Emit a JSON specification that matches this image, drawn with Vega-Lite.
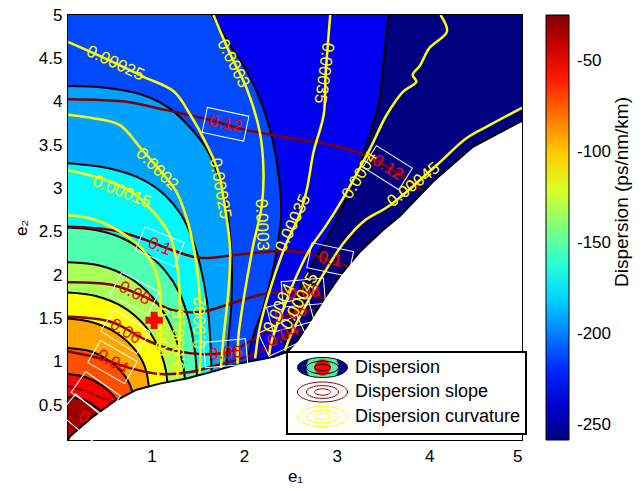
{
  "$schema": "https://vega.github.io/schema/vega-lite/v6.json",
  "width": 454,
  "height": 425,
  "autosize": "none",
  "padding": {"left": 68, "top": 15, "right": 120, "bottom": 51},
  "background": "white",
  "config": {
    "font": "Liberation Sans",
    "view": {"stroke": "black", "strokeWidth": 2},
    "axis": {"grid": false, "domain": false, "ticks": false, "labelColor": "black", "labelFontSize": 17, "labelFont": "Liberation Sans", "titleFont": "Liberation Sans", "titleFontSize": 17, "titleFontWeight": "normal", "titleColor": "black"}
  },
  "datasets": {
    "bands": [
      {"lev": -260, "c": -258, "x": 5, "y": 5}, {"lev": -260, "c": -258, "x": 5, "y": 0.1},
      {"lev": -240, "c": -232, "x": 3.56, "y": 5}, {"lev": -240, "c": -232, "x": 3.5, "y": 4.4}, {"lev": -240, "c": -232, "x": 3.45, "y": 3.96}, {"lev": -240, "c": -232, "x": 3.32, "y": 3.5}, {"lev": -240, "c": -232, "x": 3.15, "y": 3.0}, {"lev": -240, "c": -232, "x": 2.98, "y": 2.6}, {"lev": -240, "c": -232, "x": 2.8, "y": 2.25}, {"lev": -240, "c": -232, "x": 2.62, "y": 1.9}, {"lev": -240, "c": -232, "x": 2.5, "y": 1.55}, {"lev": -240, "c": -232, "x": 2.45, "y": 1.25}, {"lev": -240, "c": -232, "x": 2.43, "y": 1.08}, {"lev": -240, "c": -232, "x": 2.43, "y": 0.1},
      {"lev": -220, "c": -212, "x": 1.65, "y": 5}, {"lev": -220, "c": -212, "x": 1.85, "y": 4.65}, {"lev": -220, "c": -212, "x": 2.03, "y": 4.35}, {"lev": -220, "c": -212, "x": 2.2, "y": 3.95}, {"lev": -220, "c": -212, "x": 2.31, "y": 3.55}, {"lev": -220, "c": -212, "x": 2.38, "y": 3.1}, {"lev": -220, "c": -212, "x": 2.4, "y": 2.7}, {"lev": -220, "c": -212, "x": 2.37, "y": 2.4}, {"lev": -220, "c": -212, "x": 2.3, "y": 2.0}, {"lev": -220, "c": -212, "x": 2.2, "y": 1.6}, {"lev": -220, "c": -212, "x": 2.1, "y": 1.3}, {"lev": -220, "c": -212, "x": 2.04, "y": 1.02}, {"lev": -220, "c": -212, "x": 2.04, "y": 0.1},
      {"lev": -200, "c": -192, "x": 0.1, "y": 4.18}, {"lev": -200, "c": -192, "x": 0.5, "y": 4.16}, {"lev": -200, "c": -192, "x": 0.9, "y": 4.08}, {"lev": -200, "c": -192, "x": 1.2, "y": 3.92}, {"lev": -200, "c": -192, "x": 1.42, "y": 3.7}, {"lev": -200, "c": -192, "x": 1.6, "y": 3.45}, {"lev": -200, "c": -192, "x": 1.72, "y": 3.15}, {"lev": -200, "c": -192, "x": 1.8, "y": 2.85}, {"lev": -200, "c": -192, "x": 1.85, "y": 2.45}, {"lev": -200, "c": -192, "x": 1.87, "y": 2.0}, {"lev": -200, "c": -192, "x": 1.86, "y": 1.6}, {"lev": -200, "c": -192, "x": 1.83, "y": 1.25}, {"lev": -200, "c": -192, "x": 1.81, "y": 0.95}, {"lev": -200, "c": -192, "x": 1.81, "y": 0.1},
      {"lev": -180, "c": -172, "x": 0.1, "y": 3.29}, {"lev": -180, "c": -172, "x": 0.55, "y": 3.23}, {"lev": -180, "c": -172, "x": 0.91, "y": 3.1}, {"lev": -180, "c": -172, "x": 1.15, "y": 2.92}, {"lev": -180, "c": -172, "x": 1.32, "y": 2.7}, {"lev": -180, "c": -172, "x": 1.45, "y": 2.4}, {"lev": -180, "c": -172, "x": 1.54, "y": 2.05}, {"lev": -180, "c": -172, "x": 1.6, "y": 1.7}, {"lev": -180, "c": -172, "x": 1.63, "y": 1.35}, {"lev": -180, "c": -172, "x": 1.65, "y": 0.9}, {"lev": -180, "c": -172, "x": 1.65, "y": 0.1},
      {"lev": -160, "c": -152, "x": 0.1, "y": 2.55}, {"lev": -160, "c": -152, "x": 0.4, "y": 2.52}, {"lev": -160, "c": -152, "x": 0.7, "y": 2.42}, {"lev": -160, "c": -152, "x": 0.95, "y": 2.25}, {"lev": -160, "c": -152, "x": 1.15, "y": 2.05}, {"lev": -160, "c": -152, "x": 1.3, "y": 1.8}, {"lev": -160, "c": -152, "x": 1.4, "y": 1.5}, {"lev": -160, "c": -152, "x": 1.46, "y": 1.2}, {"lev": -160, "c": -152, "x": 1.49, "y": 0.86}, {"lev": -160, "c": -152, "x": 1.49, "y": 0.1},
      {"lev": -140, "c": -132, "x": 0.1, "y": 2.15}, {"lev": -140, "c": -132, "x": 0.45, "y": 2.11}, {"lev": -140, "c": -132, "x": 0.75, "y": 1.98}, {"lev": -140, "c": -132, "x": 1.0, "y": 1.76}, {"lev": -140, "c": -132, "x": 1.17, "y": 1.5}, {"lev": -140, "c": -132, "x": 1.28, "y": 1.22}, {"lev": -140, "c": -132, "x": 1.34, "y": 0.97}, {"lev": -140, "c": -132, "x": 1.36, "y": 0.82}, {"lev": -140, "c": -132, "x": 1.36, "y": 0.1},
      {"lev": -120, "c": -112, "x": 0.1, "y": 1.8}, {"lev": -120, "c": -112, "x": 0.4, "y": 1.76}, {"lev": -120, "c": -112, "x": 0.7, "y": 1.63}, {"lev": -120, "c": -112, "x": 0.92, "y": 1.43}, {"lev": -120, "c": -112, "x": 1.06, "y": 1.2}, {"lev": -120, "c": -112, "x": 1.14, "y": 0.98}, {"lev": -120, "c": -112, "x": 1.17, "y": 0.79}, {"lev": -120, "c": -112, "x": 1.17, "y": 0.1},
      {"lev": -100, "c": -92, "x": 0.1, "y": 1.5}, {"lev": -100, "c": -92, "x": 0.35, "y": 1.46}, {"lev": -100, "c": -92, "x": 0.6, "y": 1.35}, {"lev": -100, "c": -92, "x": 0.8, "y": 1.17}, {"lev": -100, "c": -92, "x": 0.92, "y": 0.97}, {"lev": -100, "c": -92, "x": 0.97, "y": 0.74}, {"lev": -100, "c": -92, "x": 0.97, "y": 0.1},
      {"lev": -80, "c": -72, "x": 0.1, "y": 1.16}, {"lev": -80, "c": -72, "x": 0.35, "y": 1.12}, {"lev": -80, "c": -72, "x": 0.55, "y": 1.01}, {"lev": -80, "c": -72, "x": 0.7, "y": 0.86}, {"lev": -80, "c": -72, "x": 0.79, "y": 0.67}, {"lev": -80, "c": -72, "x": 0.79, "y": 0.1},
      {"lev": -60, "c": -52, "x": 0.1, "y": 0.86}, {"lev": -60, "c": -52, "x": 0.3, "y": 0.82}, {"lev": -60, "c": -52, "x": 0.48, "y": 0.72}, {"lev": -60, "c": -52, "x": 0.6, "y": 0.6}, {"lev": -60, "c": -52, "x": 0.63, "y": 0.55}, {"lev": -60, "c": -52, "x": 0.63, "y": 0.1},
      {"lev": -40, "c": -32, "x": 0.1, "y": 0.6}, {"lev": -40, "c": -32, "x": 0.28, "y": 0.56}, {"lev": -40, "c": -32, "x": 0.4, "y": 0.48}, {"lev": -40, "c": -32, "x": 0.46, "y": 0.41}, {"lev": -40, "c": -32, "x": 0.46, "y": 0.1}
    ],
    "edge": [
      {"x": 0.1, "y": 0.1}, {"x": 0.12, "y": 0.14}, {"x": 0.37, "y": 0.37}, {"x": 0.59, "y": 0.54}, {"x": 0.84, "y": 0.68}, {"x": 1.09, "y": 0.75}, {"x": 1.38, "y": 0.81}, {"x": 1.63, "y": 0.88}, {"x": 1.99, "y": 0.99}, {"x": 2.32, "y": 1.06}, {"x": 2.47, "y": 1.12}, {"x": 2.58, "y": 1.25}, {"x": 2.7, "y": 1.45}, {"x": 2.86, "y": 1.72}, {"x": 3.04, "y": 2.0}, {"x": 3.25, "y": 2.27}, {"x": 3.5, "y": 2.52}, {"x": 3.68, "y": 2.68}, {"x": 4.04, "y": 3.08}, {"x": 4.47, "y": 3.48}, {"x": 5.0, "y": 3.78}
    ],
    "slope": [
      {"lev": "0.12", "x": 0.1, "y": 4.03}, {"lev": "0.12", "x": 0.73, "y": 4.0}, {"lev": "0.12", "x": 1.09, "y": 3.92}, {"lev": "0.12", "x": 1.63, "y": 3.79}, {"lev": "0.12", "x": 1.96, "y": 3.69}, {"lev": "0.12", "x": 2.5, "y": 3.58}, {"lev": "0.12", "x": 2.85, "y": 3.52}, {"lev": "0.12", "x": 3.22, "y": 3.42}, {"lev": "0.12", "x": 3.58, "y": 3.23}, {"lev": "0.12", "x": 3.92, "y": 2.98},
      {"lev": "0.1", "x": 0.1, "y": 2.56}, {"lev": "0.1", "x": 0.57, "y": 2.52}, {"lev": "0.1", "x": 0.93, "y": 2.41}, {"lev": "0.1", "x": 1.22, "y": 2.29}, {"lev": "0.1", "x": 1.52, "y": 2.2}, {"lev": "0.1", "x": 1.88, "y": 2.23}, {"lev": "0.1", "x": 2.24, "y": 2.27}, {"lev": "0.1", "x": 2.6, "y": 2.27}, {"lev": "0.1", "x": 2.96, "y": 2.16}, {"lev": "0.1", "x": 3.12, "y": 2.1},
      {"lev": "0.08", "x": 0.1, "y": 1.92}, {"lev": "0.08", "x": 0.57, "y": 1.89}, {"lev": "0.08", "x": 0.93, "y": 1.75}, {"lev": "0.08", "x": 1.22, "y": 1.6}, {"lev": "0.08", "x": 1.55, "y": 1.58}, {"lev": "0.08", "x": 1.88, "y": 1.68}, {"lev": "0.08", "x": 2.24, "y": 1.79}, {"lev": "0.08", "x": 2.6, "y": 1.81}, {"lev": "0.08", "x": 2.86, "y": 1.74},
      {"lev": "0.06", "x": 0.1, "y": 1.52}, {"lev": "0.06", "x": 0.57, "y": 1.46}, {"lev": "0.06", "x": 0.93, "y": 1.26}, {"lev": "0.06", "x": 1.22, "y": 1.14}, {"lev": "0.06", "x": 1.55, "y": 1.09}, {"lev": "0.06", "x": 1.85, "y": 1.12}, {"lev": "0.06", "x": 2.15, "y": 1.3}, {"lev": "0.06", "x": 2.4, "y": 1.5}, {"lev": "0.06", "x": 2.55, "y": 1.57}, {"lev": "0.06", "x": 2.76, "y": 1.6},
      {"lev": "0.04", "x": 0.1, "y": 1.12}, {"lev": "0.04", "x": 0.45, "y": 1.04}, {"lev": "0.04", "x": 0.8, "y": 0.92}, {"lev": "0.04", "x": 1.1, "y": 0.86}, {"lev": "0.04", "x": 1.4, "y": 0.88}, {"lev": "0.04", "x": 1.7, "y": 0.96}, {"lev": "0.04", "x": 2.0, "y": 1.05}, {"lev": "0.04", "x": 2.25, "y": 1.16}, {"lev": "0.04", "x": 2.44, "y": 1.3}, {"lev": "0.04", "x": 2.62, "y": 1.38},
      {"lev": "0.02", "x": 0.1, "y": 0.72}, {"lev": "0.02", "x": 0.3, "y": 0.66}, {"lev": "0.02", "x": 0.45, "y": 0.59}, {"lev": "0.02", "x": 0.58, "y": 0.54},
      {"lev": "0", "x": 0.1, "y": 0.42}, {"lev": "0", "x": 0.22, "y": 0.37}, {"lev": "0", "x": 0.32, "y": 0.33}
    ],
    "curv": [
      {"lev": "0.0001", "i": 0, "x": 0.1, "y": 2.69}, {"lev": "0.0001", "i": 1, "x": 0.39, "y": 2.64}, {"lev": "0.0001", "i": 2, "x": 0.75, "y": 2.44}, {"lev": "0.0001", "i": 3, "x": 0.97, "y": 2.21}, {"lev": "0.0001", "i": 4, "x": 1.08, "y": 1.91}, {"lev": "0.0001", "i": 5, "x": 1.1, "y": 1.6}, {"lev": "0.0001", "i": 6, "x": 1.09, "y": 1.2}, {"lev": "0.0001", "i": 7, "x": 1.07, "y": 0.78},
      {"lev": "0.00015", "i": 0, "x": 0.1, "y": 3.21}, {"lev": "0.00015", "i": 1, "x": 0.5, "y": 3.1}, {"lev": "0.00015", "i": 2, "x": 0.8, "y": 2.95}, {"lev": "0.00015", "i": 3, "x": 1.02, "y": 2.73}, {"lev": "0.00015", "i": 4, "x": 1.19, "y": 2.48}, {"lev": "0.00015", "i": 5, "x": 1.28, "y": 2.1}, {"lev": "0.00015", "i": 6, "x": 1.31, "y": 1.6}, {"lev": "0.00015", "i": 7, "x": 1.3, "y": 1.2}, {"lev": "0.00015", "i": 8, "x": 1.28, "y": 0.82},
      {"lev": "0.0002", "i": 0, "x": 0.1, "y": 3.85}, {"lev": "0.0002", "i": 1, "x": 0.37, "y": 3.81}, {"lev": "0.0002", "i": 2, "x": 0.66, "y": 3.73}, {"lev": "0.0002", "i": 3, "x": 0.88, "y": 3.47}, {"lev": "0.0002", "i": 4, "x": 1.1, "y": 3.2}, {"lev": "0.0002", "i": 5, "x": 1.27, "y": 2.96}, {"lev": "0.0002", "i": 6, "x": 1.38, "y": 2.66}, {"lev": "0.0002", "i": 7, "x": 1.46, "y": 2.3}, {"lev": "0.0002", "i": 8, "x": 1.51, "y": 1.9}, {"lev": "0.0002", "i": 9, "x": 1.53, "y": 1.5}, {"lev": "0.0002", "i": 10, "x": 1.53, "y": 1.1}, {"lev": "0.0002", "i": 11, "x": 1.52, "y": 0.87},
      {"lev": "0.00025", "i": 0, "x": 0.1, "y": 4.69}, {"lev": "0.00025", "i": 1, "x": 0.5, "y": 4.5}, {"lev": "0.00025", "i": 2, "x": 0.91, "y": 4.29}, {"lev": "0.00025", "i": 3, "x": 1.24, "y": 4.12}, {"lev": "0.00025", "i": 4, "x": 1.42, "y": 3.85}, {"lev": "0.00025", "i": 5, "x": 1.6, "y": 3.5}, {"lev": "0.00025", "i": 6, "x": 1.72, "y": 3.2}, {"lev": "0.00025", "i": 7, "x": 1.81, "y": 2.67}, {"lev": "0.00025", "i": 8, "x": 1.85, "y": 2.29}, {"lev": "0.00025", "i": 9, "x": 1.83, "y": 1.8}, {"lev": "0.00025", "i": 10, "x": 1.78, "y": 1.3}, {"lev": "0.00025", "i": 11, "x": 1.75, "y": 0.93},
      {"lev": "0.0003", "i": 0, "x": 1.67, "y": 5}, {"lev": "0.0003", "i": 1, "x": 1.85, "y": 4.55}, {"lev": "0.0003", "i": 2, "x": 2.03, "y": 4.15}, {"lev": "0.0003", "i": 3, "x": 2.17, "y": 3.65}, {"lev": "0.0003", "i": 4, "x": 2.21, "y": 3.19}, {"lev": "0.0003", "i": 5, "x": 2.19, "y": 2.79}, {"lev": "0.0003", "i": 6, "x": 2.1, "y": 2.35}, {"lev": "0.0003", "i": 7, "x": 2.0, "y": 1.75}, {"lev": "0.0003", "i": 8, "x": 1.94, "y": 1.3}, {"lev": "0.0003", "i": 9, "x": 1.93, "y": 0.98},
      {"lev": "0.00035", "i": 0, "x": 2.93, "y": 5}, {"lev": "0.00035", "i": 1, "x": 2.88, "y": 4.3}, {"lev": "0.00035", "i": 2, "x": 2.86, "y": 3.85}, {"lev": "0.00035", "i": 3, "x": 2.75, "y": 3.42}, {"lev": "0.00035", "i": 4, "x": 2.68, "y": 3.0}, {"lev": "0.00035", "i": 5, "x": 2.6, "y": 2.7}, {"lev": "0.00035", "i": 6, "x": 2.45, "y": 2.35}, {"lev": "0.00035", "i": 7, "x": 2.3, "y": 1.9}, {"lev": "0.00035", "i": 8, "x": 2.17, "y": 1.4}, {"lev": "0.00035", "i": 9, "x": 2.12, "y": 1.04},
      {"lev": "0.0004", "i": 0, "x": 4.12, "y": 5}, {"lev": "0.0004", "i": 1, "x": 4.19, "y": 4.81}, {"lev": "0.0004", "i": 2, "x": 4.0, "y": 4.62}, {"lev": "0.0004", "i": 3, "x": 3.9, "y": 4.42}, {"lev": "0.0004", "i": 4, "x": 3.82, "y": 4.31}, {"lev": "0.0004", "i": 5, "x": 3.86, "y": 4.23}, {"lev": "0.0004", "i": 6, "x": 3.72, "y": 4.12}, {"lev": "0.0004", "i": 7, "x": 3.54, "y": 3.85}, {"lev": "0.0004", "i": 8, "x": 3.36, "y": 3.46}, {"lev": "0.0004", "i": 9, "x": 3.07, "y": 2.89}, {"lev": "0.0004", "i": 10, "x": 2.89, "y": 2.58}, {"lev": "0.0004", "i": 11, "x": 2.71, "y": 2.3}, {"lev": "0.0004", "i": 12, "x": 2.55, "y": 1.95}, {"lev": "0.0004", "i": 13, "x": 2.42, "y": 1.6}, {"lev": "0.0004", "i": 14, "x": 2.3, "y": 1.25}, {"lev": "0.0004", "i": 15, "x": 2.27, "y": 1.08},
      {"lev": "0.00045", "i": 0, "x": 5, "y": 3.93}, {"lev": "0.00045", "i": 1, "x": 4.65, "y": 3.73}, {"lev": "0.00045", "i": 2, "x": 4.4, "y": 3.58}, {"lev": "0.00045", "i": 3, "x": 4.08, "y": 3.27}, {"lev": "0.00045", "i": 4, "x": 3.58, "y": 2.81}, {"lev": "0.00045", "i": 5, "x": 3.29, "y": 2.62}, {"lev": "0.00045", "i": 6, "x": 3.08, "y": 2.38}, {"lev": "0.00045", "i": 7, "x": 2.85, "y": 2.0}, {"lev": "0.00045", "i": 8, "x": 2.65, "y": 1.62}, {"lev": "0.00045", "i": 9, "x": 2.5, "y": 1.3}, {"lev": "0.00045", "i": 10, "x": 2.44, "y": 1.13}
    ],
    "slopeLabels": [
      {"t": "0.12", "x": 1.8, "y": 3.74, "a": 12}, {"t": "0.12", "x": 3.55, "y": 3.24, "a": 32},
      {"t": "0.1", "x": 1.09, "y": 2.33, "a": 22}, {"t": "0.1", "x": 2.93, "y": 2.18, "a": 12},
      {"t": "0.08", "x": 0.82, "y": 1.79, "a": 27}, {"t": "0.06", "x": 0.72, "y": 1.35, "a": 32},
      {"t": "0.04", "x": 0.58, "y": 1.0, "a": 30}, {"t": "0.02", "x": 0.4, "y": 0.63, "a": 35},
      {"t": "0", "x": 0.27, "y": 0.36, "a": 40}, {"t": "0.06", "x": 1.8, "y": 1.1, "a": -5},
      {"t": "0.08", "x": 2.64, "y": 1.8, "a": -5}, {"t": "0.06", "x": 2.5, "y": 1.55, "a": -15},
      {"t": "0.04", "x": 2.42, "y": 1.3, "a": -25}
    ],
    "curvLabels": [
      {"t": "0.00025", "x": 0.61, "y": 4.44, "a": 25}, {"t": "0.0003", "x": 1.88, "y": 4.44, "a": 63},
      {"t": "0.00025", "x": 1.74, "y": 3.0, "a": 80}, {"t": "0.0002", "x": 1.06, "y": 3.22, "a": 45},
      {"t": "0.00015", "x": 0.68, "y": 2.96, "a": 22}, {"t": "0.0003", "x": 2.19, "y": 2.58, "a": 88},
      {"t": "0.00035", "x": 2.86, "y": 4.33, "a": 98}, {"t": "0.00035", "x": 2.53, "y": 2.6, "a": -65},
      {"t": "0.0004", "x": 3.25, "y": 3.15, "a": -58}, {"t": "0.00045", "x": 3.83, "y": 3.04, "a": -38},
      {"t": "0.0004", "x": 2.38, "y": 1.62, "a": -65}, {"t": "0.00045", "x": 2.6, "y": 1.7, "a": -62},
      {"t": "0.0002", "x": 1.53, "y": 1.45, "a": -90}, {"t": "0.00015", "x": 1.3, "y": 1.25, "a": -90},
      {"t": "0.0001", "x": 1.1, "y": 1.33, "a": 90}
    ],
    "marker": [{"x": 1.03, "y": 1.48}],
    "xticks": [{"x": 1}, {"x": 2}, {"x": 3}, {"x": 4}, {"x": 5}],
    "yticks": [{"y": 0.5}, {"y": 1}, {"y": 1.5}, {"y": 2}, {"y": 2.5}, {"y": 3}, {"y": 3.5}, {"y": 4}, {"y": 4.5}, {"y": 5}]
  },
  "encoding": {
    "x": {"field": "x", "type": "quantitative", "stack": null, "scale": {"domain": [0.1, 5], "nice": false, "zero": false}, "axis": {"values": [1, 2, 3, 4, 5], "title": "e₁", "labelPadding": 8, "titlePadding": 4}},
    "y": {"field": "y", "type": "quantitative", "stack": null, "scale": {"domain": [0.1, 5], "nice": false, "zero": false}, "axis": {"values": [0.5, 1, 1.5, 2, 2.5, 3, 3.5, 4, 4.5, 5], "format": "~g", "title": "e₂", "labelPadding": 6, "titlePadding": 8}}
  },
  "layer": [
    {
      "data": {"name": "bands"},
      "mark": {"type": "area", "orient": "horizontal", "interpolate": "catmull-rom", "clip": true},
      "encoding": {
        "x2": {"datum": 0.1},
        "detail": {"field": "lev", "type": "nominal"},
        "color": {
          "field": "c", "type": "quantitative",
          "scale": {"domain": [-258, -228.8, -170.4, -112.1, -53.7, -24.5], "range": ["#000080", "#0000ff", "#00ffff", "#ffff00", "#ff0000", "#800000"], "interpolate": "rgb"},
          "legend": {"orient": "none", "legendX": 478, "legendY": 0, "direction": "vertical", "gradientLength": 425, "gradientThickness": 23, "values": [-250, -200, -150, -100, -50], "labelExpr": "datum.value + ''", "labelFontSize": 17, "labelColor": "black", "labelOffset": 8, "title": "Dispersion (ps/nm/km)", "titleOrient": "right", "titleAngle": 270, "titleLimit": 500, "titleFontSize": 19, "titleFontWeight": "normal", "titleColor": "black", "titleAnchor": "middle", "titlePadding": 8, "gradientStrokeColor": "black", "gradientStrokeWidth": 1, "padding": 0,
            "encode": {"title": {"update": {"angle": {"value": 270}, "dx": {"value": 36}, "dy": {"value": 13}}}}}
        }
      }
    },
    {
      "data": {"name": "bands"},
      "transform": [{"filter": "datum.lev > -250"}],
      "mark": {"type": "line", "interpolate": "catmull-rom", "strokeWidth": 2, "clip": true},
      "encoding": {
        "detail": {"field": "lev", "type": "nominal"},
        "order": {"field": "y", "sort": "descending"},
        "stroke": {
          "datum": "Dispersion", "type": "nominal",
          "scale": {"domain": ["Dispersion", "Dispersion slope", "Dispersion curvature"], "range": ["black", "#800000", "#ffff00"]},
          "legend": {
            "orient": "none", "legendX": 219, "legendY": 337, "title": null,
            "fillColor": "white", "strokeColor": "black", "padding": 5,
            "symbolType": "M-2.5,0A2.5,1,0,1,1,2.5,0A2.5,1,0,1,1,-2.5,0ZM-1.6,0A1.6,0.64,0,1,1,1.6,0A1.6,0.64,0,1,1,-1.6,0ZM-0.8,0A0.8,0.32,0,1,1,0.8,0A0.8,0.32,0,1,1,-0.8,0Z",
            "symbolSize": 400, "symbolStrokeWidth": 1, "symbolOffset": 20, "labelOffset": 22, "rowPadding": -0.5,
            "labelFontSize": 18, "labelColor": "black", "labelLimit": 300,
            "encode": {
              "symbols": {"update": {"fill": [{"test": "datum.value === 'Dispersion'", "value": {"gradient": "radial", "x1": 0.5, "y1": 0.5, "r1": 0, "x2": 0.5, "y2": 0.5, "r2": 0.5, "stops": [{"offset": 0, "color": "#ff0000"}, {"offset": 0.31, "color": "#ff0000"}, {"offset": 0.33, "color": "#50f0a0"}, {"offset": 0.62, "color": "#50f0a0"}, {"offset": 0.65, "color": "#000080"}, {"offset": 1, "color": "#000080"}]}}, {"value": "transparent"}]}},
              "legend": {"update": {"strokeWidth": {"value": 2}}}
            }
          }
        }
      }
    },
    {
      "data": {"name": "edge"},
      "mark": {"type": "area", "orient": "horizontal", "color": "white", "clip": true},
      "encoding": {"x2": {"datum": 5}}
    },
    {
      "data": {"name": "edge"},
      "mark": {"type": "line", "color": "black", "strokeWidth": 2, "clip": true},
      "encoding": {"order": {"field": "y"}}
    },
    {
      "data": {"name": "slope"},
      "mark": {"type": "line", "interpolate": "catmull-rom", "strokeWidth": 2.5, "clip": true},
      "encoding": {"detail": {"field": "lev", "type": "nominal"}, "stroke": {"datum": "Dispersion slope", "type": "nominal"}}
    },
    {
      "data": {"name": "curv"},
      "mark": {"type": "line", "interpolate": "catmull-rom", "strokeWidth": 2.5, "clip": true},
      "encoding": {"detail": {"field": "lev", "type": "nominal"}, "order": {"field": "i"}, "stroke": {"datum": "Dispersion curvature", "type": "nominal"}}
    },
    {
      "data": {"name": "slopeLabels"},
      "mark": {"type": "point", "shape": "M-1,-0.6H1V0.6H-1Z", "size": 1800, "filled": false, "stroke": "white", "strokeWidth": 1, "opacity": 1},
      "encoding": {"angle": {"field": "a", "type": "quantitative", "scale": null}}
    },
    {
      "data": {"name": "slopeLabels"},
      "mark": {"type": "text", "color": "#ff0000", "fontSize": 17, "align": "center", "baseline": "middle"},
      "encoding": {"text": {"field": "t", "type": "nominal"}, "angle": {"field": "a", "type": "quantitative", "scale": null}}
    },
    {
      "data": {"name": "curvLabels"},
      "mark": {"type": "text", "color": "#ffff00", "fontSize": 17, "align": "center", "baseline": "middle"},
      "encoding": {"text": {"field": "t", "type": "nominal"}, "angle": {"field": "a", "type": "quantitative", "scale": null}}
    },
    {
      "data": {"name": "marker"},
      "mark": {"type": "point", "shape": "cross", "filled": true, "color": "#ff0000", "size": 300, "opacity": 1}
    },
    {
      "data": {"name": "xticks"},
      "mark": {"type": "tick", "orient": "vertical", "size": 12, "thickness": 1.5, "color": "black", "clip": true, "opacity": 1},
      "encoding": {"y": {"datum": 5, "type": "quantitative"}}
    },
    {
      "data": {"name": "xticks"},
      "mark": {"type": "tick", "orient": "vertical", "size": 12, "thickness": 1.5, "color": "black", "clip": true, "opacity": 1},
      "encoding": {"y": {"datum": 0.1, "type": "quantitative"}}
    },
    {
      "data": {"name": "yticks"},
      "mark": {"type": "tick", "orient": "horizontal", "size": 12, "thickness": 1.5, "color": "black", "clip": true, "opacity": 1},
      "encoding": {"x": {"datum": 5, "type": "quantitative"}}
    },
    {
      "data": {"name": "yticks"},
      "mark": {"type": "tick", "orient": "horizontal", "size": 12, "thickness": 1.5, "color": "black", "clip": true, "opacity": 1},
      "encoding": {"x": {"datum": 0.1, "type": "quantitative"}}
    }
  ]
}
